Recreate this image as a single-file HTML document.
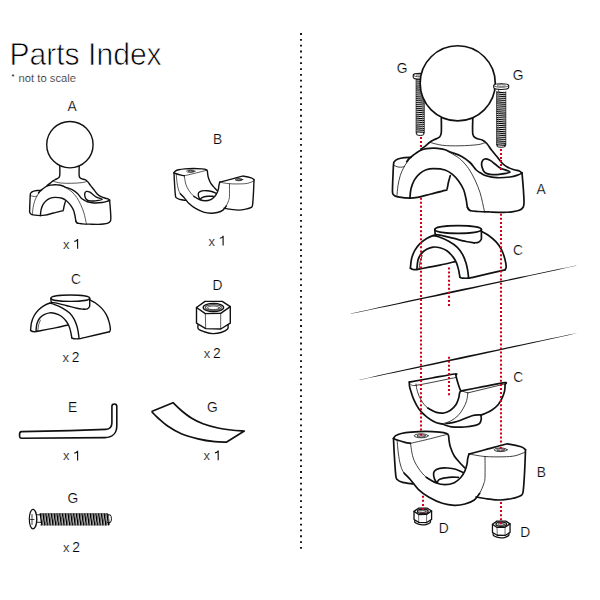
<!DOCTYPE html>
<html><head><meta charset="utf-8">
<style>
html,body{margin:0;padding:0;background:#fff;width:600px;height:600px;overflow:hidden}
svg{position:absolute;left:0;top:0;display:block}
text{font-family:"Liberation Sans",sans-serif;fill:#222}
.lb{font-size:13.8px;fill:#000;stroke:#fff;stroke-width:0.2px}
.k{fill:none;stroke:#111;stroke-width:1.3;stroke-linejoin:round;stroke-linecap:round;vector-effect:non-scaling-stroke}
.kw{fill:#fff;stroke:#111;stroke-width:1.3;stroke-linejoin:round;stroke-linecap:round;vector-effect:non-scaling-stroke}
.r{fill:none;stroke:#d0001c;stroke-width:2.05;stroke-dasharray:2 2.05}
</style></head><body>
<svg width="600" height="600" viewBox="0 0 600 600">
<text x="9.4" y="65" textLength="152.3" lengthAdjust="spacingAndGlyphs" style="font-size:31.5px;fill:#000;stroke:#fff;stroke-width:0.75px">Parts Index</text>
<text x="11.4" y="79.2" style="font-size:7.5px;fill:#000">*</text>
<text x="18.6" y="82.4" textLength="57.4" lengthAdjust="spacingAndGlyphs" style="font-size:10.5px;fill:#111;stroke:#fff;stroke-width:0.2px">not to scale</text>
<line x1="301" y1="33.1" x2="301" y2="549" stroke="#000" stroke-width="1.8" stroke-dasharray="1.8 4.04"/>
<text class="lb" x="67.5" y="111.0">A</text>
<text class="lb" x="63.0" y="248.7" style="font-size:13px">x</text>
<path d="M77.60 239.00 L77.60 248.70 M77.60 239.30 C77.00 240.80 75.60 241.30 74.30 241.40" style="fill:none;stroke:#111;stroke-width:1.15"/>
<text class="lb" x="213.0" y="144.0">B</text>
<text class="lb" x="208.5" y="245.5" style="font-size:13px">x</text>
<path d="M223.10 235.80 L223.10 245.50 M223.10 236.10 C222.50 237.60 221.10 238.10 219.80 238.20" style="fill:none;stroke:#111;stroke-width:1.15"/>
<text class="lb" x="71.0" y="284.0">C</text>
<text class="lb" x="62.5" y="361.7" style="font-size:13px">x</text>
<text class="lb" x="71.8" y="361.7">2</text>
<text class="lb" x="212.5" y="290.0">D</text>
<text class="lb" x="203.7" y="358.2" style="font-size:13px">x</text>
<text class="lb" x="213.0" y="358.2">2</text>
<text class="lb" x="68.0" y="411.7">E</text>
<text class="lb" x="63.0" y="460.4" style="font-size:13px">x</text>
<path d="M77.60 450.70 L77.60 460.40 M77.60 451.00 C77.00 452.50 75.60 453.00 74.30 453.10" style="fill:none;stroke:#111;stroke-width:1.15"/>
<text class="lb" x="207.0" y="412.0">G</text>
<text class="lb" x="203.6" y="460.2" style="font-size:13px">x</text>
<path d="M218.20 450.50 L218.20 460.20 M218.20 450.80 C217.60 452.30 216.20 452.80 214.90 452.90" style="fill:none;stroke:#111;stroke-width:1.15"/>
<text class="lb" x="67.5" y="502.5">G</text>
<text class="lb" x="62.9" y="552.1" style="font-size:13px">x</text>
<text class="lb" x="72.2" y="552.1">2</text>
<text class="lb" x="396.7" y="73.3">G</text>
<text class="lb" x="512.7" y="80.0">G</text>
<text class="lb" x="536.4" y="194.0">A</text>
<text class="lb" x="513.0" y="255.0">C</text>
<text class="lb" x="513.3" y="381.5">C</text>
<text class="lb" x="536.7" y="476.7">B</text>
<text class="lb" x="438.8" y="532.5">D</text>
<text class="lb" x="520.2" y="537.3">D</text>
<g transform="translate(69.9 144.7) scale(0.61728) translate(-457.7 -83.3)">
<path d="M441.3 117.8 L441.3 133 L439.5 137 L434 139.8 L429.5 142.5 L425 146.3 L420.8 149.2 L415 153.5 L410 157.8 L408.3 158.8 L404.5 157.6 L398 159 L394.2 161.7 L393.5 164.9 L393.1 172.5 L392.6 193.1 L394.8 195.8 L398 196.9 L409.9 198.2 L417.5 197.4 L445 190.4 L446.9 189.5 L448.5 182 L450.3 175.5 L452.5 174.4 L458.75 181.25 L463.75 190 L466.25 200 L467.5 207.5 L470 210.5 L490 212 L503.3 212.3 L512 211.8 L519.3 210.3 L523.3 207 L524 201.7 L523.3 188.3 L522 173 L519.3 171 L514 169.7 L507.3 167 L502 163 L496.7 156.3 L491.3 149.7 L486.8 143.5 L482.2 140 L476.3 138.3 L472.8 134.2 L472.8 117.8Z" fill="#fff" stroke="none"/>
<path class="k" style="stroke-width:1.40" d="M441.3 118 C441.3 120.42 441.6 129.33 441.3 132.5 C441 135.67 440.72 135.78 439.5 137 C438.28 138.22 435.67 138.88 434 139.8 C432.33 140.72 431 141.42 429.5 142.5 C428 143.58 426.45 145.18 425 146.3 C423.55 147.42 421.5 148.72 420.8 149.2"/>
<path class="k" style="stroke-width:0.70" d="M429.7 142.3 C431.83 142.8 437.45 144.72 442.5 145.3 C447.55 145.88 454.17 145.9 460 145.8 C465.83 145.7 473.42 145.18 477.5 144.7 C481.58 144.22 483.33 143.2 484.5 142.9"/>
<path class="k" style="stroke-width:1.40" d="M472.8 118 C472.8 120.7 472.22 130.82 472.8 134.2 C473.38 137.58 474.73 137.33 476.3 138.3 C477.87 139.27 480.45 139.13 482.2 140 C483.95 140.87 485.28 141.88 486.8 143.5 C488.32 145.12 489.65 147.57 491.3 149.7 C492.95 151.83 494.92 154.08 496.7 156.3 C498.48 158.52 500.23 161.22 502 163 C503.77 164.78 505.3 165.88 507.3 167 C509.3 168.12 512 169.03 514 169.7 C516 170.37 517.97 170.45 519.3 171 C520.63 171.55 521.55 172.67 522 173"/>
<path class="k" style="stroke-width:1.40" d="M522 173 C522.22 175.55 522.97 183.52 523.3 188.3 C523.63 193.08 524 198.58 524 201.7 C524 204.82 524.08 205.57 523.3 207 C522.52 208.43 521.18 209.5 519.3 210.3 C517.42 211.1 514.67 211.47 512 211.8 C509.33 212.13 506.97 212.27 503.3 212.3 C499.63 212.33 494.22 212.13 490 212 C485.78 211.87 481.33 211.75 478 211.5 C474.67 211.25 471.75 211.17 470 210.5 C468.25 209.83 467.92 208 467.5 207.5"/>
<path class="k" style="stroke-width:1.40" d="M406.7 161.7 C407.08 161.2 407.92 159.78 409 158.7 C410.08 157.62 411.42 156.52 413.2 155.2 C414.98 153.88 417.53 151.88 419.7 150.8 C421.87 149.72 423.85 149.15 426.2 148.7 C428.55 148.25 431.71 148.12 433.8 148.1 C435.89 148.08 436.88 148.32 438.75 148.6 C440.62 148.88 442.92 149.18 445 149.8 C447.08 150.42 448.54 151.23 451.25 152.3 C453.96 153.38 458.12 154.55 461.25 156.25 C464.38 157.95 467.5 160.21 470 162.5 C472.5 164.79 474.47 168.25 476.25 170 C478.03 171.75 479.07 172.05 480.7 173 C482.32 173.95 483.33 174.92 486 175.7 C488.67 176.48 492.7 177.48 496.7 177.7 C500.7 177.92 506.45 177.45 510 177 C513.55 176.55 516 175.67 518 175 C520 174.33 521.33 173.33 522 173"/>
<path class="k" style="stroke-width:0.70" d="M446 150.3 C447.5 151.17 452.46 153.88 455 155.5 C457.54 157.12 458.96 157.79 461.25 160 C463.54 162.21 466.46 165.42 468.75 168.75 C471.04 172.08 473.12 176.04 475 180 C476.88 183.96 478.75 188.75 480 192.5 C481.25 196.25 481.77 199.38 482.5 202.5 C483.23 205.62 484.03 209.58 484.4 211.25 C484.77 212.92 484.65 212.29 484.7 212.5"/>
<path class="k" style="stroke-width:0.70" d="M396.9 196.3 C397.08 194.5 397.45 188.92 398 185.5 C398.55 182.08 399.3 178.68 400.2 175.8 C401.1 172.92 402.32 170.37 403.4 168.2 C404.48 166.03 405.43 164.62 406.7 162.8 C407.97 160.98 410.28 158.22 411 157.3"/>
<path class="k" style="stroke-width:1.40" d="M411 157.3 C409.92 157.35 406.67 157.32 404.5 157.6 C402.33 157.88 399.72 158.32 398 159 C396.28 159.68 394.95 160.72 394.2 161.7 C393.45 162.68 393.68 163.1 393.5 164.9 C393.32 166.7 393.25 169.07 393.1 172.5 C392.95 175.93 392.68 182.07 392.6 185.5 C392.52 188.93 392.23 191.38 392.6 193.1 C392.97 194.82 393.9 195.17 394.8 195.8 C395.7 196.43 395.48 196.5 398 196.9 C400.52 197.3 406.65 198.12 409.9 198.2 C413.15 198.28 413.98 198.1 417.5 197.4 C421.02 196.7 426.42 195.17 431 194 C435.58 192.83 442.35 191.15 445 190.4 C447.65 189.65 446.32 190.9 446.9 189.5 C447.48 188.1 447.93 184.33 448.5 182 C449.07 179.67 450 176.58 450.3 175.5"/>
<path class="k" style="stroke-width:0.70" d="M394.2 165.5 C394.83 165.75 396.65 166.73 398 167 C399.35 167.27 401.22 167.22 402.3 167.1 C403.38 166.98 404.13 166.43 404.5 166.3"/>
<path class="k" style="stroke-width:1.40" d="M409.9 198.2 C410.08 196.63 410.27 191.82 411 188.8 C411.73 185.78 412.85 182.63 414.3 180.1 C415.75 177.57 417.72 175.32 419.7 173.6 C421.68 171.88 423.85 170.62 426.2 169.8 C428.55 168.98 430.67 168.67 433.8 168.7 C436.93 168.73 441.88 169.05 445 170 C448.12 170.95 450.21 172.53 452.5 174.4 C454.79 176.28 456.88 178.65 458.75 181.25 C460.62 183.85 462.5 186.88 463.75 190 C465 193.12 465.62 197.08 466.25 200 C466.88 202.92 466.88 205.75 467.5 207.5 C468.12 209.25 469.58 210 470 210.5"/>
<path class="k" style="stroke-width:1.40" d="M510 172 C510.23 171 503.15 169.58 500.7 168.3 C498.25 167.02 497.08 165.63 495.3 164.3 C493.52 162.97 491.77 161.18 490 160.3 C488.23 159.42 486.03 158.77 484.7 159 C483.37 159.23 482.45 160.37 482 161.7 C481.55 163.03 481.55 165.23 482 167 C482.45 168.77 483.37 171.08 484.7 172.3 C486.03 173.52 487.57 173.97 490 174.3 C492.43 174.63 495.97 174.68 499.3 174.3 C502.63 173.92 509.77 173 510 172Z"/>
<circle cx="457.7" cy="83.3" r="37.55" class="kw" style="stroke-width:1.40"/>
</g>
<g transform="translate(174 168.5) scale(0.60606) translate(-393.5 -431.4)">
<path d="M393.5 438.5 L395.7 435.6 L401.3 433.5 L411.2 432.1 L425.4 431.4 L439.6 432.1 L446.7 433.5 L448.5 435.5 L449 440 L450.3 446.7 L454.3 456 L461 464 L465 468 L467 464 L467.7 458.7 L469 454 L485 449.8 L504.5 444.5 L509 444.2 L521 446.8 L525.5 449.8 L524.7 470 L523.2 491 L521 495.5 L512 498.5 L500 500 L485 498.5 L474.3 500 L465 504 L454.3 505.3 L442.3 503.3 L429 497.3 L418.3 489.3 L413 484 L402.7 482.4 L397.1 479.5 L395.7 474.6 L394.2 453.3Z" fill="#fff" stroke="none"/>
<path class="k" style="stroke-width:1.40" d="M393.5 438.5 C393.87 438.02 394.4 436.43 395.7 435.6 C397 434.77 398.72 434.08 401.3 433.5 C403.88 432.92 407.18 432.45 411.2 432.1 C415.22 431.75 420.67 431.4 425.4 431.4 C430.13 431.4 436.05 431.75 439.6 432.1 C443.15 432.45 445.22 432.93 446.7 433.5 C448.18 434.07 448.12 434.42 448.5 435.5 C448.88 436.58 448.7 438.13 449 440 C449.3 441.87 449.42 444.03 450.3 446.7 C451.18 449.37 452.52 453.12 454.3 456 C456.08 458.88 459.22 462 461 464 C462.78 466 464.33 467.33 465 468"/>
<path class="k" style="stroke-width:1.40" d="M393.5 438.5 C394.1 438.75 395.18 439.37 397.1 440 C399.02 440.63 402.77 441.75 405 442.3 C407.23 442.85 409.58 443.13 410.5 443.3"/>
<path class="k" style="stroke-width:0.70" d="M410.5 443.3 C412.92 442.75 418.97 441.47 425 440 C431.03 438.53 443.08 435.42 446.7 434.5"/>
<ellipse cx="421.2" cy="435.8" rx="7" ry="2" class="k" style="stroke-width:0.70"/>
<ellipse cx="421.2" cy="435.9" rx="4.2" ry="1.1" class="k" style="stroke-width:0.70"/>
<path class="k" style="stroke-width:1.40" d="M393.5 438.5 C393.62 440.97 393.83 447.28 394.2 453.3 C394.57 459.32 395.22 470.23 395.7 474.6 C396.18 478.97 395.93 478.2 397.1 479.5 C398.27 480.8 400.05 481.65 402.7 482.4 C405.35 483.15 411.28 483.73 413 484"/>
<path class="k" style="stroke-width:0.70" d="M397.1 440 C397.3 442.17 397.73 448.83 398.3 453 C398.87 457.17 399.55 461.67 400.5 465 C401.45 468.33 402.37 470.58 404 473 C405.63 475.42 409.25 478.42 410.3 479.5"/>
<path class="k" style="stroke-width:1.40" d="M404 473 C405.05 474.08 407.92 476.78 410.3 479.5 C412.68 482.22 415.18 486.33 418.3 489.3 C421.42 492.27 425 494.97 429 497.3 C433 499.63 438.08 501.97 442.3 503.3 C446.52 504.63 450.52 505.18 454.3 505.3 C458.08 505.42 461.67 504.88 465 504 C468.33 503.12 471.85 501.78 474.3 500 C476.75 498.22 478.8 494.42 479.7 493.3"/>
<path class="k" style="stroke-width:0.70" d="M474.3 500 C475.2 498.88 478.13 495.97 479.7 493.3 C481.27 490.63 482.82 486.67 483.7 484 C484.58 481.33 484.78 481.88 485 477.3 C485.22 472.72 485 459.97 485 456.5"/>
<path class="k" style="stroke-width:0.70" d="M410.5 443.3 C410.92 445.63 411.7 453.18 413 457.3 C414.3 461.42 416.08 464.67 418.3 468 C420.52 471.33 423.4 474.85 426.3 477.3 C429.2 479.75 434.13 481.8 435.7 482.7"/>
<path class="k" style="stroke-width:1.40" d="M426.3 477.3 C427.87 478.2 432.58 481.47 435.7 482.7 C438.82 483.93 441.9 484.7 445 484.7 C448.1 484.7 451.63 483.93 454.3 482.7 C456.97 481.47 459.22 479.3 461 477.3 C462.78 475.3 464 472.92 465 470.7 C466 468.48 466.55 466 467 464 C467.45 462 467.37 460.37 467.7 458.7 C468.03 457.03 468.78 454.78 469 454"/>
<path class="k" style="stroke-width:1.40" d="M463 472.5 C461.78 471.97 458.25 470.05 455.7 469.3 C453.15 468.55 450.37 468.17 447.7 468 C445.03 467.83 441.93 467.75 439.7 468.3 C437.47 468.85 435.3 470.02 434.3 471.3 C433.3 472.58 433.5 474.38 433.7 476 C433.9 477.62 434.87 479.88 435.5 481 C436.13 482.12 437.17 482.42 437.5 482.7"/>
<path class="k" style="stroke-width:1.40" d="M437 482.7 C437.45 482.13 437.7 480.2 439.7 479.3 C441.7 478.4 445.9 477.63 449 477.3 C452.1 476.97 456.75 477.3 458.3 477.3"/>
<path class="k" style="stroke-width:1.40" d="M469 454 C471.67 453.3 479.08 451.38 485 449.8 C490.92 448.22 500.5 445.43 504.5 444.5 C508.5 443.57 506.25 443.82 509 444.2 C511.75 444.58 518.25 445.87 521 446.8 C523.75 447.73 524.75 449.3 525.5 449.8"/>
<path class="k" style="stroke-width:0.70" d="M469 454 C471.67 454.42 479.33 456.03 485 456.5 C490.67 456.97 498 456.92 503 456.8 C508 456.68 511.25 456.6 515 455.8 C518.75 455 523.75 452.63 525.5 452"/>
<path class="k" style="stroke-width:1.40" d="M525.5 449.8 C525.37 453.17 525.08 463.13 524.7 470 C524.32 476.87 523.82 486.75 523.2 491 C522.58 495.25 522.87 494.25 521 495.5 C519.13 496.75 515.5 497.75 512 498.5 C508.5 499.25 504.5 500 500 500 C495.5 500 489 499 485 498.5 C481 498 477.5 497.25 476 497"/>
<ellipse cx="500.7" cy="449.8" rx="6.5" ry="1.8" class="k" style="stroke-width:0.70"/>
<ellipse cx="500.7" cy="449.9" rx="4" ry="1" class="k" style="stroke-width:0.70"/>
</g>
<g transform="translate(70.3 298.2) scale(0.83333) translate(-458.1 -229.5)">
<path d="M410.4 268.2 L411.5 259 L414.8 250.3 L420.2 243.3 L426.7 238.4 L433 235.6 L434.8 230.8 L440 226.5 L458 225.9 L476 227 L481.3 230.3 L488.3 235.2 L495.9 241.7 L501.3 249.3 L504.6 257.9 L506.2 266.6 L505.1 269.8 L475 276.8 L468.6 278.1 L462.5 278.1 L459.9 277.2 L458.6 269.9 L456.5 262.9 L455.2 261.6 L440 265.1 L419.5 269 L416.9 269.6 L413 269.5Z" fill="#fff" stroke="none"/>
<ellipse cx="458.1" cy="229.5" rx="23.3" ry="3.85" class="k" style="stroke-width:1.40"/>
<path class="k" style="stroke-width:1.40" d="M434.8 229.8 C434.83 230.25 434.92 231.7 435 232.5 C435.08 233.3 435.25 234.25 435.3 234.6"/>
<path class="k" style="stroke-width:1.40" d="M481.4 229.5 C481.4 230.58 481.43 234.33 481.4 236 C481.37 237.67 481.67 238.47 481.2 239.5 C480.73 240.53 479.75 241.65 478.6 242.2 C477.45 242.75 475.02 242.7 474.3 242.8"/>
<path class="k" style="stroke-width:1.40" d="M435.3 234.6 C436.08 234.68 437.05 234.5 440 235.1 C442.95 235.7 448.67 237.13 453 238.2 C457.33 239.27 462.45 240.73 466 241.5 C469.55 242.27 472.92 242.58 474.3 242.8"/>
<path class="k" style="stroke-width:1.40" d="M410.4 268.2 C410.58 266.67 410.77 261.98 411.5 259 C412.23 256.02 413.35 252.92 414.8 250.3 C416.25 247.68 418.22 245.28 420.2 243.3 C422.18 241.32 424.57 239.68 426.7 238.4 C428.83 237.12 431.45 236.07 433 235.6 C434.55 235.13 435.5 235.6 436 235.6"/>
<path class="k" style="stroke-width:1.40" d="M433 235.6 C433.93 235.8 435.98 235.85 438.6 236.8 C441.22 237.75 445.58 239.55 448.7 241.3 C451.82 243.05 455 245.13 457.3 247.3 C459.6 249.47 461.05 251.7 462.5 254.3 C463.95 256.9 465.13 260.17 466 262.9 C466.87 265.63 467.27 268.23 467.7 270.7 C468.13 273.17 468.45 276.53 468.6 277.7"/>
<path class="k" style="stroke-width:1.40" d="M416.9 269.3 C417.08 267.77 417.27 262.72 418 260.1 C418.73 257.48 419.85 255.4 421.3 253.6 C422.75 251.8 424.72 250.38 426.7 249.3 C428.68 248.22 430.98 247.35 433.2 247.1 C435.42 246.85 437.72 247.18 440 247.8 C442.28 248.42 444.73 249.28 446.9 250.8 C449.07 252.32 451.4 254.88 453 256.9 C454.6 258.92 455.57 260.73 456.5 262.9 C457.43 265.07 458.03 267.52 458.6 269.9 C459.17 272.28 459.68 275.98 459.9 277.2"/>
<path class="k" style="stroke-width:0.70" d="M419.1 268.8 C419.28 267.53 419.67 263.37 420.2 261.2 C420.73 259.03 421.95 256.7 422.3 255.8"/>
<path class="k" style="stroke-width:1.40" d="M419.5 269 C422.92 268.35 434.05 266.33 440 265.1 C445.95 263.87 452.67 262.18 455.2 261.6"/>
<path class="k" style="stroke-width:1.40" d="M410.4 268.2 C410.83 268.42 411.92 269.27 413 269.5 C414.08 269.73 415.82 269.68 416.9 269.6 C417.98 269.52 419.07 269.1 419.5 269"/>
<path class="k" style="stroke-width:1.40" d="M459.9 277.2 C460.33 277.35 461.05 277.95 462.5 278.1 C463.95 278.25 466.52 278.32 468.6 278.1 C470.68 277.88 468.92 278.18 475 276.8 C481.08 275.42 500.08 270.97 505.1 269.8"/>
<path class="k" style="stroke-width:1.40" d="M481.3 231.3 C482.47 231.95 485.87 233.47 488.3 235.2 C490.73 236.93 493.73 239.35 495.9 241.7 C498.07 244.05 499.85 246.6 501.3 249.3 C502.75 252 503.78 255.02 504.6 257.9 C505.42 260.78 506.12 264.62 506.2 266.6 C506.28 268.58 505.28 269.27 505.1 269.8"/>
</g>
<path d="M196.5 307.5 L205 301.4 L222.2 301.4 L230.3 306.7 L230.3 323.2 L228 324.4 L227.6 329 L221 332.5 L213 333.6 L205 332 L198.4 329 L198 325 L196.5 323.2Z" fill="#fff" stroke="none"/>
<path class="k" style="stroke-width:1.40" d="M196.5 307.5 L205 301.4 L222.2 301.4 L230.3 306.7 L220.7 313.3 L205.3 313.6Z"/>
<path class="k" style="stroke-width:1.40" d="M196.5 307.5 L196.5 323.2 L205.7 328.6 L220.7 329 L230.3 323.2 L230.3 306.7"/>
<path class="k" style="stroke-width:0.70" d="M205.3 313.6 L205.7 328.6 M220.7 313.3 L220.7 329"/>
<path class="k" style="stroke-width:1.40" d="M198 325 C198.07 325.67 197.23 327.83 198.4 329 C199.57 330.17 202.57 331.23 205 332 C207.43 332.77 210.33 333.52 213 333.6 C215.67 333.68 218.57 333.27 221 332.5 C223.43 331.73 226.43 330.35 227.6 329 C228.77 327.65 227.93 325.17 228 324.4"/>
<ellipse cx="213.4" cy="307.5" rx="10.2" ry="4.1" class="k" style="stroke-width:1.40"/>
<ellipse cx="213.4" cy="307.6" rx="8" ry="2.9" style="fill:none;stroke:#555;stroke-width:1.2"/>
<ellipse cx="213.4" cy="307.8" rx="6" ry="1.8" class="k" style="stroke-width:0.70"/>
<path class="k" style="stroke-width:1.6" d="M21.4 431.6 L70 430.6 L105.8 429.4 C109.5 429.2 111.8 427 111.9 423 L111.9 406.4 C111.9 403.2 116.8 403.2 116.8 406.4 L116.8 425.7 C116.8 433.5 112 437.5 104.9 437.6 L21.4 438.2 C18.9 438.2 18.9 431.6 21.4 431.6 Z"/>
<path class="k" style="stroke-width:1.7" d="M152.2 411.3 L173 402.7 C174.38 404 178.25 407.95 181.3 410.5 C184.35 413.05 187.68 415.78 191.3 418 C194.92 420.22 198.55 422.13 203 423.8 C207.45 425.47 213.28 426.97 218 428 C222.72 429.03 226.92 429.5 231.3 430 C235.68 430.5 242.13 430.83 244.3 431 L226.3 442.2 C224.37 442.12 219.42 442.27 214.7 441.7 C209.98 441.13 203.57 440.12 198 438.8 C192.43 437.48 186.3 435.88 181.3 433.8 C176.3 431.72 171.88 428.93 168 426.3 C164.12 423.67 160.63 420.35 158 418 C155.37 415.65 153.17 413.17 152.2 412.2Z"/>
<path class="k" style="stroke-width:0.9" d="M36.5 514.8 L41 514.8 M36.5 522.3 L41 522.3"/>
<path d="M40.20 513.3 L41.90 525.3 M42.98 513.3 L44.68 525.3 M45.76 513.3 L47.46 525.3 M48.54 513.3 L50.24 525.3 M51.32 513.3 L53.02 525.3 M54.10 513.3 L55.80 525.3 M56.88 513.3 L58.58 525.3 M59.66 513.3 L61.36 525.3 M62.44 513.3 L64.14 525.3 M65.22 513.3 L66.92 525.3 M68.00 513.3 L69.70 525.3 M70.78 513.3 L72.48 525.3 M73.56 513.3 L75.26 525.3 M76.34 513.3 L78.04 525.3 M79.12 513.3 L80.82 525.3 M81.90 513.3 L83.60 525.3 M84.68 513.3 L86.38 525.3 M87.46 513.3 L89.16 525.3 M90.24 513.3 L91.94 525.3 M93.02 513.3 L94.72 525.3 M95.80 513.3 L97.50 525.3 M98.58 513.3 L100.28 525.3 M101.36 513.3 L103.06 525.3 M104.14 513.3 L105.84 525.3 M106.92 513.3 L108.62 525.3" style="fill:none;stroke:#000;stroke-width:1.35"/>
<path d="M41.50 513.8 L42.80 524.8 M44.28 513.8 L45.58 524.8 M47.06 513.8 L48.36 524.8 M49.84 513.8 L51.14 524.8 M52.62 513.8 L53.92 524.8 M55.40 513.8 L56.70 524.8 M58.18 513.8 L59.48 524.8 M60.96 513.8 L62.26 524.8 M63.74 513.8 L65.04 524.8 M66.52 513.8 L67.82 524.8 M69.30 513.8 L70.60 524.8 M72.08 513.8 L73.38 524.8 M74.86 513.8 L76.16 524.8 M77.64 513.8 L78.94 524.8 M80.42 513.8 L81.72 524.8 M83.20 513.8 L84.50 524.8 M85.98 513.8 L87.28 524.8 M88.76 513.8 L90.06 524.8 M91.54 513.8 L92.84 524.8 M94.32 513.8 L95.62 524.8 M97.10 513.8 L98.40 524.8 M99.88 513.8 L101.18 524.8 M102.66 513.8 L103.96 524.8 M105.44 513.8 L106.74 524.8 M108.22 513.8 L109.52 524.8" style="fill:none;stroke:#333;stroke-width:0.75"/>
<path d="M40 513.6 L107.5 513.6 M40 525 L107.5 525" style="fill:none;stroke:#333;stroke-width:0.6"/>
<path class="k" style="stroke-width:1" d="M107.5 514.9 L110.3 514.9 C111.8 516.5 111.8 521 110.3 522.6 L107.5 522.6"/>
<ellipse cx="33" cy="519.1" rx="3.7" ry="9.8" class="kw" style="stroke-width:1.2"/>
<path class="k" style="stroke-width:0.7" d="M35.2 510.6 C37.6 513 37.6 525.2 35.2 527.6"/>
<path class="k" style="stroke-width:0.8" d="M32 514.5 L32 524.5 M30.5 519.5 L34 519.5"/>
<path d="M350.83 313.82 L360.23 311.9 L369.65 309.99 L379.06 308.07 L388.46 306.14 L397.87 304.2 L407.27 302.26 L416.68 300.31 L426.08 298.36 L435.48 296.41 L444.89 294.45 L454.28 292.48 L463.67 290.44 L473.05 288.39 L482.43 286.35 L491.82 284.3 L501.2 282.25 L510.58 280.2 L519.96 278.14 L529.34 276.09 L538.72 274.02 L548.1 271.95 L557.47 269.88 L566.85 267.78 L576.23 265.72 L576.17 265.48 L566.77 267.43 L557.36 269.34 L547.95 271.27 L538.55 273.21 L529.14 275.16 L519.74 277.11 L510.34 279.06 L500.94 281.02 L491.53 282.98 L482.13 284.94 L472.73 286.9 L463.33 288.86 L453.93 290.83 L444.55 292.86 L435.17 294.92 L425.79 296.97 L416.4 299.03 L407.03 301.09 L397.65 303.16 L388.27 305.23 L378.89 307.3 L369.52 309.39 L360.15 311.5 L350.77 313.58Z" fill="#111"/>
<path d="M359.53 379.92 L368.62 378.05 L377.72 376.2 L386.82 374.34 L395.92 372.46 L405.01 370.57 L414.1 368.68 L423.19 366.79 L432.28 364.89 L441.37 362.99 L450.46 361.09 L459.55 359.17 L468.62 357.18 L477.69 355.19 L486.76 353.2 L495.83 351.21 L504.9 349.22 L513.97 347.22 L523.04 345.22 L532.1 343.21 L541.17 341.21 L550.24 339.19 L559.3 337.17 L568.36 335.13 L577.43 333.12 L577.37 332.88 L568.28 334.77 L559.18 336.63 L550.09 338.51 L541 340.39 L531.9 342.29 L522.81 344.18 L513.72 346.08 L504.63 347.98 L495.55 349.89 L486.46 351.8 L477.37 353.71 L468.28 355.62 L459.19 357.53 L450.12 359.51 L441.05 361.51 L431.98 363.51 L422.92 365.51 L413.85 367.52 L404.78 369.53 L395.72 371.54 L386.65 373.56 L377.59 375.6 L368.54 377.65 L359.47 379.68Z" fill="#111"/>
<path d="M410.4 268.2 L411.5 259 L414.8 250.3 L420.2 243.3 L426.7 238.4 L433 235.6 L434.8 230.8 L440 226.5 L458 225.9 L476 227 L481.3 230.3 L488.3 235.2 L495.9 241.7 L501.3 249.3 L504.6 257.9 L506.2 266.6 L505.1 269.8 L475 276.8 L468.6 278.1 L462.5 278.1 L459.9 277.2 L458.6 269.9 L456.5 262.9 L455.2 261.6 L440 265.1 L419.5 269 L416.9 269.6 L413 269.5Z" fill="#fff" stroke="none"/>
<ellipse cx="458.1" cy="229.5" rx="23.3" ry="3.85" class="k" style="stroke-width:1.70"/>
<path class="k" style="stroke-width:1.70" d="M434.8 229.8 C434.83 230.25 434.92 231.7 435 232.5 C435.08 233.3 435.25 234.25 435.3 234.6"/>
<path class="k" style="stroke-width:1.70" d="M481.4 229.5 C481.4 230.58 481.43 234.33 481.4 236 C481.37 237.67 481.67 238.47 481.2 239.5 C480.73 240.53 479.75 241.65 478.6 242.2 C477.45 242.75 475.02 242.7 474.3 242.8"/>
<path class="k" style="stroke-width:1.70" d="M435.3 234.6 C436.08 234.68 437.05 234.5 440 235.1 C442.95 235.7 448.67 237.13 453 238.2 C457.33 239.27 462.45 240.73 466 241.5 C469.55 242.27 472.92 242.58 474.3 242.8"/>
<path class="k" style="stroke-width:1.70" d="M410.4 268.2 C410.58 266.67 410.77 261.98 411.5 259 C412.23 256.02 413.35 252.92 414.8 250.3 C416.25 247.68 418.22 245.28 420.2 243.3 C422.18 241.32 424.57 239.68 426.7 238.4 C428.83 237.12 431.45 236.07 433 235.6 C434.55 235.13 435.5 235.6 436 235.6"/>
<path class="k" style="stroke-width:1.70" d="M433 235.6 C433.93 235.8 435.98 235.85 438.6 236.8 C441.22 237.75 445.58 239.55 448.7 241.3 C451.82 243.05 455 245.13 457.3 247.3 C459.6 249.47 461.05 251.7 462.5 254.3 C463.95 256.9 465.13 260.17 466 262.9 C466.87 265.63 467.27 268.23 467.7 270.7 C468.13 273.17 468.45 276.53 468.6 277.7"/>
<path class="k" style="stroke-width:1.70" d="M416.9 269.3 C417.08 267.77 417.27 262.72 418 260.1 C418.73 257.48 419.85 255.4 421.3 253.6 C422.75 251.8 424.72 250.38 426.7 249.3 C428.68 248.22 430.98 247.35 433.2 247.1 C435.42 246.85 437.72 247.18 440 247.8 C442.28 248.42 444.73 249.28 446.9 250.8 C449.07 252.32 451.4 254.88 453 256.9 C454.6 258.92 455.57 260.73 456.5 262.9 C457.43 265.07 458.03 267.52 458.6 269.9 C459.17 272.28 459.68 275.98 459.9 277.2"/>
<path class="k" style="stroke-width:0.80" d="M419.1 268.8 C419.28 267.53 419.67 263.37 420.2 261.2 C420.73 259.03 421.95 256.7 422.3 255.8"/>
<path class="k" style="stroke-width:1.70" d="M419.5 269 C422.92 268.35 434.05 266.33 440 265.1 C445.95 263.87 452.67 262.18 455.2 261.6"/>
<path class="k" style="stroke-width:1.70" d="M410.4 268.2 C410.83 268.42 411.92 269.27 413 269.5 C414.08 269.73 415.82 269.68 416.9 269.6 C417.98 269.52 419.07 269.1 419.5 269"/>
<path class="k" style="stroke-width:1.70" d="M459.9 277.2 C460.33 277.35 461.05 277.95 462.5 278.1 C463.95 278.25 466.52 278.32 468.6 278.1 C470.68 277.88 468.92 278.18 475 276.8 C481.08 275.42 500.08 270.97 505.1 269.8"/>
<path class="k" style="stroke-width:1.70" d="M481.3 231.3 C482.47 231.95 485.87 233.47 488.3 235.2 C490.73 236.93 493.73 239.35 495.9 241.7 C498.07 244.05 499.85 246.6 501.3 249.3 C502.75 252 503.78 255.02 504.6 257.9 C505.42 260.78 506.12 264.62 506.2 266.6 C506.28 268.58 505.28 269.27 505.1 269.8"/>
<path class="k" style="stroke-width:1.70" d="M409.3 382.1 C413.08 381.42 424.42 379.35 432 378 C439.58 376.65 450.82 374.5 454.8 374 C458.78 373.5 455.72 374.83 455.9 375"/>
<path class="k" style="stroke-width:0.80" d="M411 384.2 C412 384.37 409.45 386.33 417 385.2 C424.55 384.07 449.75 378.7 456.3 377.4"/>
<path class="k" style="stroke-width:1.70" d="M409.3 382.1 C409.33 382.75 409.32 384.73 409.5 386 C409.68 387.27 409.7 387.47 410.4 389.7 C411.1 391.93 412.25 396.15 413.7 399.4 C415.15 402.65 416.93 406.3 419.1 409.2 C421.27 412.1 424 414.63 426.7 416.8 C429.4 418.97 432.6 420.95 435.3 422.2 C438 423.45 440.2 423.53 442.9 424.3 C445.6 425.07 447.9 426.35 451.5 426.8 C455.1 427.25 460.53 427.23 464.5 427 C468.47 426.77 472.77 426.02 475.3 425.4 C477.83 424.78 478.7 424.38 479.7 423.3 C480.7 422.22 481.12 420.27 481.3 418.9 C481.48 417.53 480.88 415.73 480.8 415.1"/>
<path class="k" style="stroke-width:1.70" d="M505.1 384.3 C505.02 385.38 505.05 388.63 504.6 390.8 C504.15 392.97 503.48 394.97 502.4 397.3 C501.32 399.63 499.9 402.63 498.1 404.8 C496.3 406.97 493.77 408.85 491.6 410.3 C489.43 411.75 486.9 412.7 485.1 413.5 C483.3 414.3 481.52 414.83 480.8 415.1"/>
<path class="k" style="stroke-width:1.70" d="M455.9 375 C456 375.5 456.15 376.63 456.5 378 C456.85 379.37 457.38 381.25 458 383.2 C458.62 385.15 459.65 388.43 460.2 389.7 C460.75 390.97 461.12 390.62 461.3 390.8"/>
<path class="k" style="stroke-width:1.70" d="M461.3 390.8 C464.92 390.12 475.78 388.07 483 386.7 C490.22 385.33 500.92 383 504.6 382.6 C508.28 382.2 505.02 384.02 505.1 384.3"/>
<path class="k" style="stroke-width:0.80" d="M467.8 392.9 L503.5 384.3"/>
<path class="k" style="stroke-width:0.80" d="M461.3 390.8 L467.8 392.9"/>
<path class="k" style="stroke-width:0.80" d="M416 384 C416.25 385.3 416.62 389.05 417.5 391.8 C418.38 394.55 419.58 397.78 421.3 400.5 C423.02 403.22 425.28 406.12 427.8 408.1 C430.32 410.08 434.97 411.68 436.4 412.4"/>
<path class="k" style="stroke-width:1.70" d="M427.8 408.1 C429.23 408.82 433.7 411.58 436.4 412.4 C439.1 413.22 441.65 413.35 444 413 C446.35 412.65 448.52 411.67 450.5 410.3 C452.48 408.93 454.55 406.8 455.9 404.8 C457.25 402.8 457.98 400.27 458.6 398.3 C459.22 396.33 459.33 394.13 459.6 393 C459.87 391.87 460.1 391.75 460.2 391.5"/>
<path class="k" style="stroke-width:0.80" d="M467.8 392.9 C467.62 394.17 467.43 397.97 466.7 400.5 C465.97 403.03 464.85 405.57 463.4 408.1 C461.95 410.63 460.17 413.53 458 415.7 C455.83 417.87 452.9 419.78 450.4 421.1 C447.9 422.42 445.15 423.23 443 423.6 C440.85 423.97 438.42 423.35 437.5 423.3"/>
<path class="k" style="stroke-width:1.70" d="M480 414.8 C478.67 414.95 475.12 414.83 472 415.7 C468.88 416.57 464.35 418.88 461.3 420 C458.25 421.12 456.25 421.82 453.7 422.4 C451.15 422.98 447.28 423.32 446 423.5"/>
<line class="r" x1="421.0" y1="137.0" x2="421.0" y2="436.0"/>
<line class="r" x1="501.0" y1="149.0" x2="501.0" y2="450.0"/>
<line class="r" x1="449.0" y1="267.5" x2="449.0" y2="306.0"/>
<line class="r" x1="449.0" y1="356.7" x2="449.0" y2="395.2"/>
<path d="M416.10 79.10 L424.30 79.70 M416.10 81.05 L424.30 81.65 M416.10 83.00 L424.30 83.60 M416.10 84.95 L424.30 85.55 M416.10 86.90 L424.30 87.50 M416.10 88.85 L424.30 89.45 M416.10 90.80 L424.30 91.40 M416.10 92.75 L424.30 93.35 M416.10 94.70 L424.30 95.30 M416.10 96.65 L424.30 97.25 M416.10 98.60 L424.30 99.20 M416.10 100.55 L424.30 101.15 M416.10 102.50 L424.30 103.10 M416.10 104.45 L424.30 105.05 M416.10 106.40 L424.30 107.00 M416.10 108.35 L424.30 108.95 M416.10 110.30 L424.30 110.90 M416.10 112.25 L424.30 112.85 M416.10 114.20 L424.30 114.80 M416.10 116.15 L424.30 116.75 M416.10 118.10 L424.30 118.70 M416.10 120.05 L424.30 120.65 M416.10 122.00 L424.30 122.60 M416.10 123.95 L424.30 124.55 M416.10 125.90 L424.30 126.50 M416.10 127.85 L424.30 128.45 M416.10 129.80 L424.30 130.40 M416.10 131.75 L424.30 132.35" style="fill:none;stroke:#000;stroke-width:1.1"/>
<path d="M416.10 78.30 L416.10 133.50 M424.30 78.30 L424.30 133.50" style="fill:none;stroke:#222;stroke-width:0.8"/>
<path d="M418.10 78.30 L418.10 133.00 M422.50 78.30 L422.50 133.00" style="fill:none;stroke:#777;stroke-width:0.6"/>
<path class="k" style="stroke-width:1" d="M416.70 132.50 L416.70 134.70 C418.10 135.70 422.30 135.70 423.70 134.70 L423.70 132.50"/>
<path class="k" style="stroke-width:0.7" d="M417.70 78.70 L417.70 78.30"/>
<path d="M413.20 75.20 C413.20 72.70 427.20 72.70 427.20 75.20 L427.20 77.20 C427.20 79.80 413.20 79.80 413.20 77.20 Z" class="kw" style="stroke-width:1.1"/>
<path class="k" style="stroke-width:0.7" d="M413.20 75.20 C413.20 77.50 427.20 77.50 427.20 75.20"/>
<ellipse cx="420.20" cy="75.10" rx="3.92" ry="0.9" style="fill:none;stroke:#666;stroke-width:0.8"/>
<path d="M441.3 117.8 L441.3 133 L439.5 137 L434 139.8 L429.5 142.5 L425 146.3 L420.8 149.2 L415 153.5 L410 157.8 L408.3 158.8 L404.5 157.6 L398 159 L394.2 161.7 L393.5 164.9 L393.1 172.5 L392.6 193.1 L394.8 195.8 L398 196.9 L409.9 198.2 L417.5 197.4 L445 190.4 L446.9 189.5 L448.5 182 L450.3 175.5 L452.5 174.4 L458.75 181.25 L463.75 190 L466.25 200 L467.5 207.5 L470 210.5 L490 212 L503.3 212.3 L512 211.8 L519.3 210.3 L523.3 207 L524 201.7 L523.3 188.3 L522 173 L519.3 171 L514 169.7 L507.3 167 L502 163 L496.7 156.3 L491.3 149.7 L486.8 143.5 L482.2 140 L476.3 138.3 L472.8 134.2 L472.8 117.8Z" fill="#fff" stroke="none"/>
<path class="k" style="stroke-width:1.70" d="M441.3 118 C441.3 120.42 441.6 129.33 441.3 132.5 C441 135.67 440.72 135.78 439.5 137 C438.28 138.22 435.67 138.88 434 139.8 C432.33 140.72 431 141.42 429.5 142.5 C428 143.58 426.45 145.18 425 146.3 C423.55 147.42 421.5 148.72 420.8 149.2"/>
<path class="k" style="stroke-width:0.80" d="M429.7 142.3 C431.83 142.8 437.45 144.72 442.5 145.3 C447.55 145.88 454.17 145.9 460 145.8 C465.83 145.7 473.42 145.18 477.5 144.7 C481.58 144.22 483.33 143.2 484.5 142.9"/>
<path class="k" style="stroke-width:1.70" d="M472.8 118 C472.8 120.7 472.22 130.82 472.8 134.2 C473.38 137.58 474.73 137.33 476.3 138.3 C477.87 139.27 480.45 139.13 482.2 140 C483.95 140.87 485.28 141.88 486.8 143.5 C488.32 145.12 489.65 147.57 491.3 149.7 C492.95 151.83 494.92 154.08 496.7 156.3 C498.48 158.52 500.23 161.22 502 163 C503.77 164.78 505.3 165.88 507.3 167 C509.3 168.12 512 169.03 514 169.7 C516 170.37 517.97 170.45 519.3 171 C520.63 171.55 521.55 172.67 522 173"/>
<path class="k" style="stroke-width:1.70" d="M522 173 C522.22 175.55 522.97 183.52 523.3 188.3 C523.63 193.08 524 198.58 524 201.7 C524 204.82 524.08 205.57 523.3 207 C522.52 208.43 521.18 209.5 519.3 210.3 C517.42 211.1 514.67 211.47 512 211.8 C509.33 212.13 506.97 212.27 503.3 212.3 C499.63 212.33 494.22 212.13 490 212 C485.78 211.87 481.33 211.75 478 211.5 C474.67 211.25 471.75 211.17 470 210.5 C468.25 209.83 467.92 208 467.5 207.5"/>
<path class="k" style="stroke-width:1.70" d="M406.7 161.7 C407.08 161.2 407.92 159.78 409 158.7 C410.08 157.62 411.42 156.52 413.2 155.2 C414.98 153.88 417.53 151.88 419.7 150.8 C421.87 149.72 423.85 149.15 426.2 148.7 C428.55 148.25 431.71 148.12 433.8 148.1 C435.89 148.08 436.88 148.32 438.75 148.6 C440.62 148.88 442.92 149.18 445 149.8 C447.08 150.42 448.54 151.23 451.25 152.3 C453.96 153.38 458.12 154.55 461.25 156.25 C464.38 157.95 467.5 160.21 470 162.5 C472.5 164.79 474.47 168.25 476.25 170 C478.03 171.75 479.07 172.05 480.7 173 C482.32 173.95 483.33 174.92 486 175.7 C488.67 176.48 492.7 177.48 496.7 177.7 C500.7 177.92 506.45 177.45 510 177 C513.55 176.55 516 175.67 518 175 C520 174.33 521.33 173.33 522 173"/>
<path class="k" style="stroke-width:0.80" d="M446 150.3 C447.5 151.17 452.46 153.88 455 155.5 C457.54 157.12 458.96 157.79 461.25 160 C463.54 162.21 466.46 165.42 468.75 168.75 C471.04 172.08 473.12 176.04 475 180 C476.88 183.96 478.75 188.75 480 192.5 C481.25 196.25 481.77 199.38 482.5 202.5 C483.23 205.62 484.03 209.58 484.4 211.25 C484.77 212.92 484.65 212.29 484.7 212.5"/>
<path class="k" style="stroke-width:0.80" d="M396.9 196.3 C397.08 194.5 397.45 188.92 398 185.5 C398.55 182.08 399.3 178.68 400.2 175.8 C401.1 172.92 402.32 170.37 403.4 168.2 C404.48 166.03 405.43 164.62 406.7 162.8 C407.97 160.98 410.28 158.22 411 157.3"/>
<path class="k" style="stroke-width:1.70" d="M411 157.3 C409.92 157.35 406.67 157.32 404.5 157.6 C402.33 157.88 399.72 158.32 398 159 C396.28 159.68 394.95 160.72 394.2 161.7 C393.45 162.68 393.68 163.1 393.5 164.9 C393.32 166.7 393.25 169.07 393.1 172.5 C392.95 175.93 392.68 182.07 392.6 185.5 C392.52 188.93 392.23 191.38 392.6 193.1 C392.97 194.82 393.9 195.17 394.8 195.8 C395.7 196.43 395.48 196.5 398 196.9 C400.52 197.3 406.65 198.12 409.9 198.2 C413.15 198.28 413.98 198.1 417.5 197.4 C421.02 196.7 426.42 195.17 431 194 C435.58 192.83 442.35 191.15 445 190.4 C447.65 189.65 446.32 190.9 446.9 189.5 C447.48 188.1 447.93 184.33 448.5 182 C449.07 179.67 450 176.58 450.3 175.5"/>
<path class="k" style="stroke-width:0.80" d="M394.2 165.5 C394.83 165.75 396.65 166.73 398 167 C399.35 167.27 401.22 167.22 402.3 167.1 C403.38 166.98 404.13 166.43 404.5 166.3"/>
<path class="k" style="stroke-width:1.70" d="M409.9 198.2 C410.08 196.63 410.27 191.82 411 188.8 C411.73 185.78 412.85 182.63 414.3 180.1 C415.75 177.57 417.72 175.32 419.7 173.6 C421.68 171.88 423.85 170.62 426.2 169.8 C428.55 168.98 430.67 168.67 433.8 168.7 C436.93 168.73 441.88 169.05 445 170 C448.12 170.95 450.21 172.53 452.5 174.4 C454.79 176.28 456.88 178.65 458.75 181.25 C460.62 183.85 462.5 186.88 463.75 190 C465 193.12 465.62 197.08 466.25 200 C466.88 202.92 466.88 205.75 467.5 207.5 C468.12 209.25 469.58 210 470 210.5"/>
<path class="k" style="stroke-width:1.70" d="M510 172 C510.23 171 503.15 169.58 500.7 168.3 C498.25 167.02 497.08 165.63 495.3 164.3 C493.52 162.97 491.77 161.18 490 160.3 C488.23 159.42 486.03 158.77 484.7 159 C483.37 159.23 482.45 160.37 482 161.7 C481.55 163.03 481.55 165.23 482 167 C482.45 168.77 483.37 171.08 484.7 172.3 C486.03 173.52 487.57 173.97 490 174.3 C492.43 174.63 495.97 174.68 499.3 174.3 C502.63 173.92 509.77 173 510 172Z"/>
<circle cx="457.7" cy="83.3" r="37.55" class="kw" style="stroke-width:1.70"/>
<path d="M496.60 92.10 L505.80 92.70 M496.60 94.05 L505.80 94.65 M496.60 96.00 L505.80 96.60 M496.60 97.95 L505.80 98.55 M496.60 99.90 L505.80 100.50 M496.60 101.85 L505.80 102.45 M496.60 103.80 L505.80 104.40 M496.60 105.75 L505.80 106.35 M496.60 107.70 L505.80 108.30 M496.60 109.65 L505.80 110.25 M496.60 111.60 L505.80 112.20 M496.60 113.55 L505.80 114.15 M496.60 115.50 L505.80 116.10 M496.60 117.45 L505.80 118.05 M496.60 119.40 L505.80 120.00 M496.60 121.35 L505.80 121.95 M496.60 123.30 L505.80 123.90 M496.60 125.25 L505.80 125.85 M496.60 127.20 L505.80 127.80 M496.60 129.15 L505.80 129.75 M496.60 131.10 L505.80 131.70 M496.60 133.05 L505.80 133.65 M496.60 135.00 L505.80 135.60 M496.60 136.95 L505.80 137.55 M496.60 138.90 L505.80 139.50 M496.60 140.85 L505.80 141.45 M496.60 142.80 L505.80 143.40 M496.60 144.75 L505.80 145.35" style="fill:none;stroke:#000;stroke-width:1.1"/>
<path d="M496.60 91.30 L496.60 145.30 M505.80 91.30 L505.80 145.30" style="fill:none;stroke:#222;stroke-width:0.8"/>
<path d="M498.60 91.30 L498.60 144.80 M504.00 91.30 L504.00 144.80" style="fill:none;stroke:#777;stroke-width:0.6"/>
<path class="k" style="stroke-width:1" d="M497.20 144.30 L497.20 146.50 C498.60 147.50 503.80 147.50 505.20 146.50 L505.20 144.30"/>
<path class="k" style="stroke-width:0.7" d="M498.70 89.10 L498.70 91.30"/>
<path d="M493.70 85.60 C493.70 83.10 508.70 83.10 508.70 85.60 L508.70 87.60 C508.70 90.20 493.70 90.20 493.70 87.60 Z" class="kw" style="stroke-width:1.1"/>
<path class="k" style="stroke-width:0.7" d="M493.70 85.60 C493.70 87.90 508.70 87.90 508.70 85.60"/>
<ellipse cx="501.20" cy="85.50" rx="4.20" ry="0.9" style="fill:none;stroke:#666;stroke-width:0.8"/>
<line class="r" x1="501.0" y1="160.0" x2="501.0" y2="170.0"/>
<path d="M393.5 438.5 L395.7 435.6 L401.3 433.5 L411.2 432.1 L425.4 431.4 L439.6 432.1 L446.7 433.5 L448.5 435.5 L449 440 L450.3 446.7 L454.3 456 L461 464 L465 468 L467 464 L467.7 458.7 L469 454 L485 449.8 L504.5 444.5 L509 444.2 L521 446.8 L525.5 449.8 L524.7 470 L523.2 491 L521 495.5 L512 498.5 L500 500 L485 498.5 L474.3 500 L465 504 L454.3 505.3 L442.3 503.3 L429 497.3 L418.3 489.3 L413 484 L402.7 482.4 L397.1 479.5 L395.7 474.6 L394.2 453.3Z" fill="#fff" stroke="none"/>
<path class="k" style="stroke-width:1.70" d="M393.5 438.5 C393.87 438.02 394.4 436.43 395.7 435.6 C397 434.77 398.72 434.08 401.3 433.5 C403.88 432.92 407.18 432.45 411.2 432.1 C415.22 431.75 420.67 431.4 425.4 431.4 C430.13 431.4 436.05 431.75 439.6 432.1 C443.15 432.45 445.22 432.93 446.7 433.5 C448.18 434.07 448.12 434.42 448.5 435.5 C448.88 436.58 448.7 438.13 449 440 C449.3 441.87 449.42 444.03 450.3 446.7 C451.18 449.37 452.52 453.12 454.3 456 C456.08 458.88 459.22 462 461 464 C462.78 466 464.33 467.33 465 468"/>
<path class="k" style="stroke-width:1.70" d="M393.5 438.5 C394.1 438.75 395.18 439.37 397.1 440 C399.02 440.63 402.77 441.75 405 442.3 C407.23 442.85 409.58 443.13 410.5 443.3"/>
<path class="k" style="stroke-width:0.80" d="M410.5 443.3 C412.92 442.75 418.97 441.47 425 440 C431.03 438.53 443.08 435.42 446.7 434.5"/>
<ellipse cx="421.2" cy="435.8" rx="7" ry="2" class="k" style="stroke-width:0.80"/>
<ellipse cx="421.2" cy="435.9" rx="4.2" ry="1.1" class="k" style="stroke-width:0.80"/>
<path class="k" style="stroke-width:1.70" d="M393.5 438.5 C393.62 440.97 393.83 447.28 394.2 453.3 C394.57 459.32 395.22 470.23 395.7 474.6 C396.18 478.97 395.93 478.2 397.1 479.5 C398.27 480.8 400.05 481.65 402.7 482.4 C405.35 483.15 411.28 483.73 413 484"/>
<path class="k" style="stroke-width:0.80" d="M397.1 440 C397.3 442.17 397.73 448.83 398.3 453 C398.87 457.17 399.55 461.67 400.5 465 C401.45 468.33 402.37 470.58 404 473 C405.63 475.42 409.25 478.42 410.3 479.5"/>
<path class="k" style="stroke-width:1.70" d="M404 473 C405.05 474.08 407.92 476.78 410.3 479.5 C412.68 482.22 415.18 486.33 418.3 489.3 C421.42 492.27 425 494.97 429 497.3 C433 499.63 438.08 501.97 442.3 503.3 C446.52 504.63 450.52 505.18 454.3 505.3 C458.08 505.42 461.67 504.88 465 504 C468.33 503.12 471.85 501.78 474.3 500 C476.75 498.22 478.8 494.42 479.7 493.3"/>
<path class="k" style="stroke-width:0.80" d="M474.3 500 C475.2 498.88 478.13 495.97 479.7 493.3 C481.27 490.63 482.82 486.67 483.7 484 C484.58 481.33 484.78 481.88 485 477.3 C485.22 472.72 485 459.97 485 456.5"/>
<path class="k" style="stroke-width:0.80" d="M410.5 443.3 C410.92 445.63 411.7 453.18 413 457.3 C414.3 461.42 416.08 464.67 418.3 468 C420.52 471.33 423.4 474.85 426.3 477.3 C429.2 479.75 434.13 481.8 435.7 482.7"/>
<path class="k" style="stroke-width:1.70" d="M426.3 477.3 C427.87 478.2 432.58 481.47 435.7 482.7 C438.82 483.93 441.9 484.7 445 484.7 C448.1 484.7 451.63 483.93 454.3 482.7 C456.97 481.47 459.22 479.3 461 477.3 C462.78 475.3 464 472.92 465 470.7 C466 468.48 466.55 466 467 464 C467.45 462 467.37 460.37 467.7 458.7 C468.03 457.03 468.78 454.78 469 454"/>
<path class="k" style="stroke-width:1.70" d="M463 472.5 C461.78 471.97 458.25 470.05 455.7 469.3 C453.15 468.55 450.37 468.17 447.7 468 C445.03 467.83 441.93 467.75 439.7 468.3 C437.47 468.85 435.3 470.02 434.3 471.3 C433.3 472.58 433.5 474.38 433.7 476 C433.9 477.62 434.87 479.88 435.5 481 C436.13 482.12 437.17 482.42 437.5 482.7"/>
<path class="k" style="stroke-width:1.70" d="M437 482.7 C437.45 482.13 437.7 480.2 439.7 479.3 C441.7 478.4 445.9 477.63 449 477.3 C452.1 476.97 456.75 477.3 458.3 477.3"/>
<path class="k" style="stroke-width:1.70" d="M469 454 C471.67 453.3 479.08 451.38 485 449.8 C490.92 448.22 500.5 445.43 504.5 444.5 C508.5 443.57 506.25 443.82 509 444.2 C511.75 444.58 518.25 445.87 521 446.8 C523.75 447.73 524.75 449.3 525.5 449.8"/>
<path class="k" style="stroke-width:0.80" d="M469 454 C471.67 454.42 479.33 456.03 485 456.5 C490.67 456.97 498 456.92 503 456.8 C508 456.68 511.25 456.6 515 455.8 C518.75 455 523.75 452.63 525.5 452"/>
<path class="k" style="stroke-width:1.70" d="M525.5 449.8 C525.37 453.17 525.08 463.13 524.7 470 C524.32 476.87 523.82 486.75 523.2 491 C522.58 495.25 522.87 494.25 521 495.5 C519.13 496.75 515.5 497.75 512 498.5 C508.5 499.25 504.5 500 500 500 C495.5 500 489 499 485 498.5 C481 498 477.5 497.25 476 497"/>
<ellipse cx="500.7" cy="449.8" rx="6.5" ry="1.8" class="k" style="stroke-width:0.80"/>
<ellipse cx="500.7" cy="449.9" rx="4" ry="1" class="k" style="stroke-width:0.80"/>
<line class="r" x1="421.2" y1="433.8" x2="421.2" y2="437.0"/>
<line class="r" x1="500.8" y1="446.8" x2="500.8" y2="450.8"/>
<g transform="translate(422.65 508) scale(0.52) translate(-213.1 -301)">
<path d="M196.5 307.5 L205 301.4 L222.2 301.4 L230.3 306.7 L230.3 323.2 L228 324.4 L227.6 329 L221 332.5 L213 333.6 L205 332 L198.4 329 L198 325 L196.5 323.2Z" fill="#fff" stroke="none"/>
<path class="k" style="stroke-width:1.30" d="M196.5 307.5 L205 301.4 L222.2 301.4 L230.3 306.7 L220.7 313.3 L205.3 313.6Z"/>
<path class="k" style="stroke-width:1.30" d="M196.5 307.5 L196.5 323.2 L205.7 328.6 L220.7 329 L230.3 323.2 L230.3 306.7"/>
<path class="k" style="stroke-width:0.60" d="M205.3 313.6 L205.7 328.6 M220.7 313.3 L220.7 329"/>
<path class="k" style="stroke-width:1.30" d="M198 325 C198.07 325.67 197.23 327.83 198.4 329 C199.57 330.17 202.57 331.23 205 332 C207.43 332.77 210.33 333.52 213 333.6 C215.67 333.68 218.57 333.27 221 332.5 C223.43 331.73 226.43 330.35 227.6 329 C228.77 327.65 227.93 325.17 228 324.4"/>
<ellipse cx="213.4" cy="307.5" rx="10.2" ry="4.1" class="k" style="stroke-width:1.30"/>
<ellipse cx="213.4" cy="307.6" rx="8" ry="2.9" style="fill:none;stroke:#555;stroke-width:1.2"/>
<ellipse cx="213.4" cy="307.8" rx="6" ry="1.8" class="k" style="stroke-width:0.60"/>
</g>
<g transform="translate(501.1 520.9) scale(0.52) translate(-213.1 -301)">
<path d="M196.5 307.5 L205 301.4 L222.2 301.4 L230.3 306.7 L230.3 323.2 L228 324.4 L227.6 329 L221 332.5 L213 333.6 L205 332 L198.4 329 L198 325 L196.5 323.2Z" fill="#fff" stroke="none"/>
<path class="k" style="stroke-width:1.30" d="M196.5 307.5 L205 301.4 L222.2 301.4 L230.3 306.7 L220.7 313.3 L205.3 313.6Z"/>
<path class="k" style="stroke-width:1.30" d="M196.5 307.5 L196.5 323.2 L205.7 328.6 L220.7 329 L230.3 323.2 L230.3 306.7"/>
<path class="k" style="stroke-width:0.60" d="M205.3 313.6 L205.7 328.6 M220.7 313.3 L220.7 329"/>
<path class="k" style="stroke-width:1.30" d="M198 325 C198.07 325.67 197.23 327.83 198.4 329 C199.57 330.17 202.57 331.23 205 332 C207.43 332.77 210.33 333.52 213 333.6 C215.67 333.68 218.57 333.27 221 332.5 C223.43 331.73 226.43 330.35 227.6 329 C228.77 327.65 227.93 325.17 228 324.4"/>
<ellipse cx="213.4" cy="307.5" rx="10.2" ry="4.1" class="k" style="stroke-width:1.30"/>
<ellipse cx="213.4" cy="307.6" rx="8" ry="2.9" style="fill:none;stroke:#555;stroke-width:1.2"/>
<ellipse cx="213.4" cy="307.8" rx="6" ry="1.8" class="k" style="stroke-width:0.60"/>
</g>
<line class="r" x1="423.0" y1="495.8" x2="423.0" y2="512.5"/>
<line class="r" x1="501.0" y1="502.0" x2="501.0" y2="525.5"/>
</svg>
</body></html>
